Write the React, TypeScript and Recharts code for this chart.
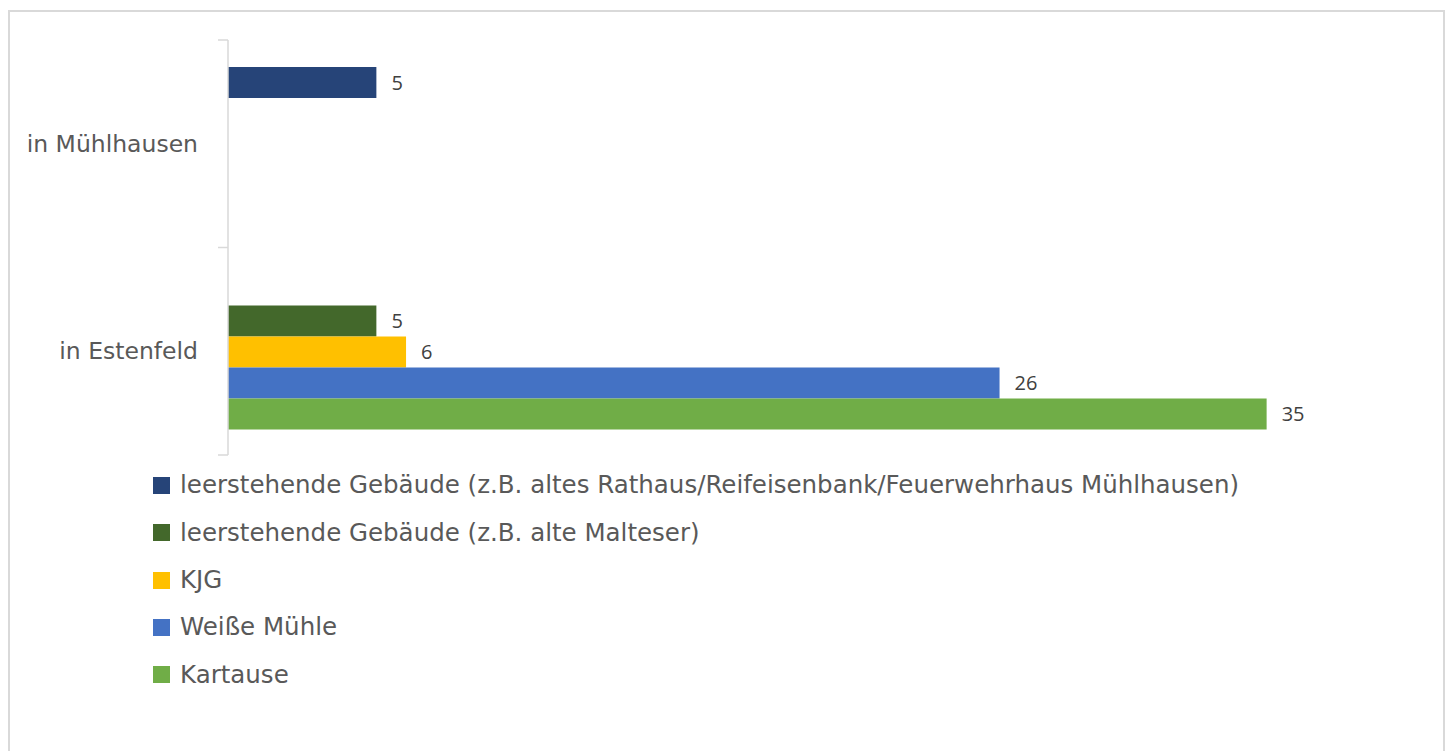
import { Bar, BarChart, LabelList, Legend, XAxis, YAxis } from 'recharts'

const categories = ['in Mühlhausen', 'in Estenfeld']

const seriesNames = [
  'leerstehende Gebäude (z.B. altes Rathaus/Reifeisenbank/Feuerwehrhaus Mühlhausen)',
  'leerstehende Gebäude (z.B. alte Malteser)',
  'KJG',
  'Weiße Mühle',
  'Kartause',
]

const leerstehendRathaus = [5, null]
const leerstehendMalteser = [null, 5]
const kjg = [null, 6]
const weisseMuehle = [null, 26]
const kartause = [null, 35]

const seriesValues = [leerstehendRathaus, leerstehendMalteser, kjg, weisseMuehle, kartause]
const seriesColors = ['#264478', '#43682B', '#FFC000', '#4472C4', '#70AD47']

const data = categories.map((name, i) => {
  const row: Record<string, string | number | null> = { name }
  seriesValues.forEach((vals, s) => {
    row['s' + s] = vals[i]
  })
  return row
})

const W = 1433
const H = 756
const MARGIN = { top: 28, right: 28, left: 0, bottom: 313 }
const AXIS_W = 218
const TICK_SIZE = 10
const TICK_MARGIN = 20
const TEXT_FONT = "'Comic Sans MS', 'DejaVu Sans', sans-serif"
const GREY = '#d9d9d9'

const halfBand = (H - MARGIN.top - MARGIN.bottom) / categories.length / 2

const CategoryTick = (props: any) => {
  const { x, y, payload, index } = props
  const lx1 = x + TICK_MARGIN
  const lx2 = lx1 + TICK_SIZE
  return (
    <g>
      <text
        x={x}
        y={y}
        textAnchor="end"
        dominantBaseline="central"
        fontSize={23.5}
        fontFamily={TEXT_FONT}
        fill="#595959"
      >
        {payload.value}
      </text>
      <line x1={lx1} x2={lx2} y1={y - halfBand} y2={y - halfBand} stroke={GREY} strokeWidth={1.5} />
      {index === categories.length - 1 && (
        <line x1={lx1} x2={lx2} y1={y + halfBand} y2={y + halfBand} stroke={GREY} strokeWidth={1.5} />
      )}
    </g>
  )
}

// legend keeps the series order (Recharts would sort it by name)
const renderLegend = () => (
  <div style={{ display: 'flex', flexDirection: 'column', alignItems: 'flex-start' }}>
    {seriesNames.map((n, s) => (
      <div key={n} style={{ display: 'flex', alignItems: 'center', height: 47.3 }}>
        <span style={{ width: 17, height: 17, background: seriesColors[s], marginRight: 10, flex: 'none' }} />
        <span
          style={{
            fontSize: 24.5,
            color: '#595959',
            fontFamily: TEXT_FONT,
            lineHeight: 1,
            whiteSpace: 'nowrap',
          }}
        >
          {n}
        </span>
      </div>
    ))}
  </div>
)

export default function App() {
  return (
    <div
      style={{
        position: 'fixed',
        left: 8,
        top: 10,
        width: W + 4,
        height: H + 4,
        border: `2px solid ${GREY}`,
        boxSizing: 'border-box',
        background: '#fff',
      }}
    >
      <BarChart
        width={W}
        height={H}
        data={data}
        layout="vertical"
        margin={MARGIN}
        barCategoryGap={27}
        barGap={0}
      >
        <XAxis type="number" domain={[0, 40]} hide />
        <YAxis
          type="category"
          dataKey="name"
          width={AXIS_W}
          axisLine={{ stroke: GREY, strokeWidth: 1.5 }}
          tickLine={false}
          tickSize={TICK_SIZE}
          tickMargin={TICK_MARGIN}
          tick={<CategoryTick />}
        />
        {seriesNames.map((n, s) => (
          <Bar key={n} dataKey={'s' + s} name={n} fill={seriesColors[s]} isAnimationActive={false}>
            <LabelList
              dataKey={'s' + s}
              position="right"
              offset={15}
              fill="#404040"
              fontSize={20}
              fontFamily="'Open Sans', sans-serif"
              formatter={(v: any) => (v == null ? '' : v)}
            />
          </Bar>
        ))}
        <Legend
          layout="horizontal"
          verticalAlign="bottom"
          align="center"
          content={renderLegend}
          wrapperStyle={{ left: 143, top: 450, bottom: 'auto', height: 0, width: 1250, overflow: 'visible' }}
        />
      </BarChart>
    </div>
  )
}
